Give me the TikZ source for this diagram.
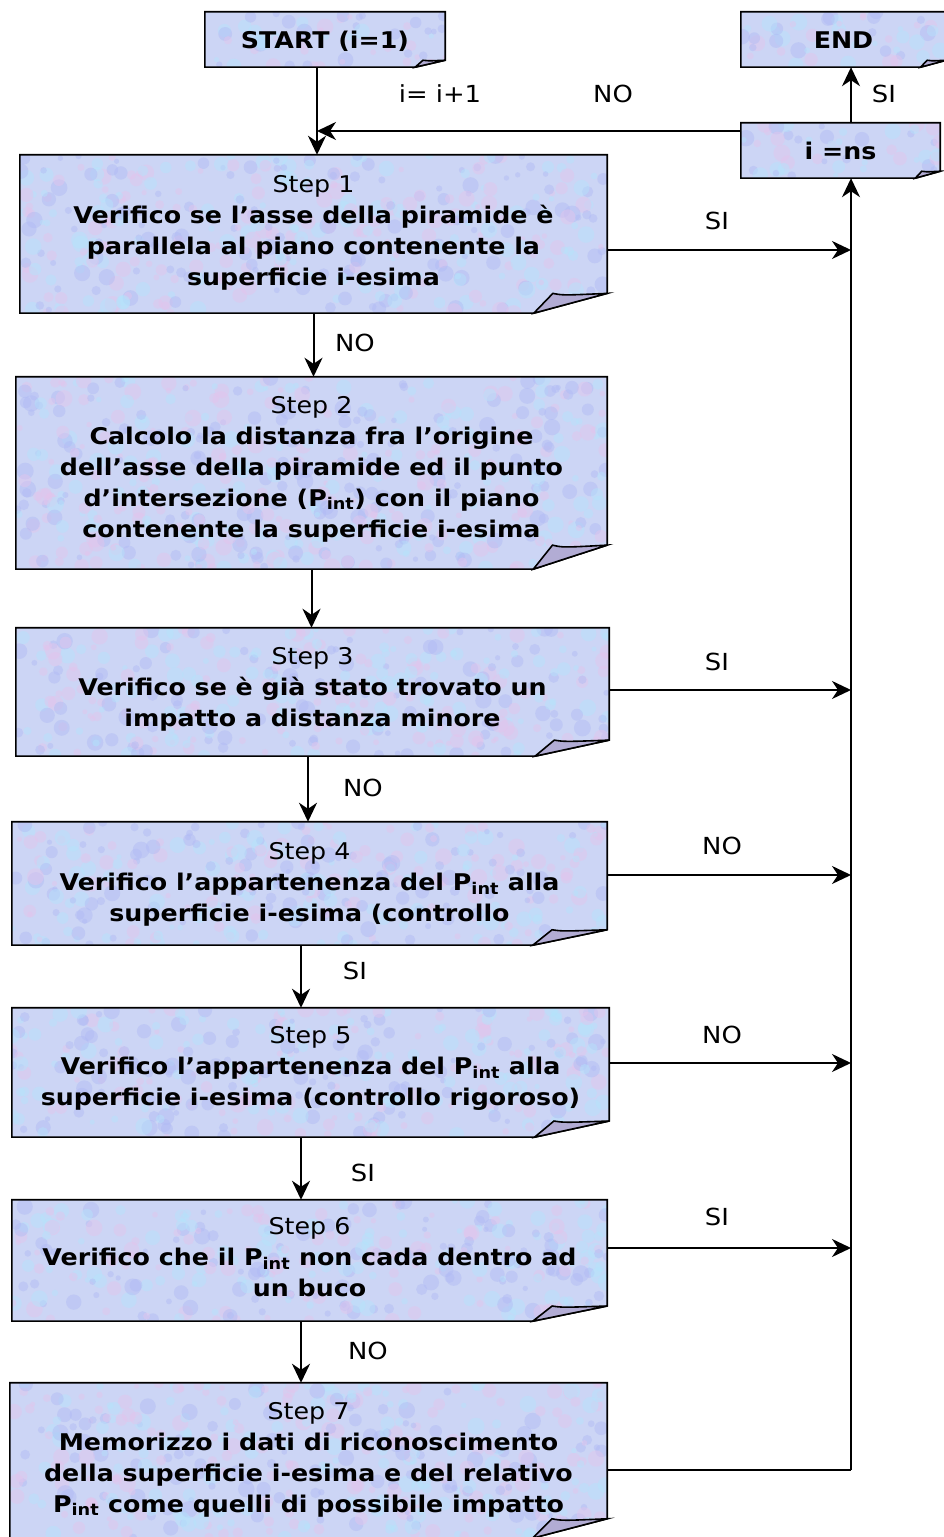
\documentclass[tikz,border=0pt]{standalone}
\usepackage{fontspec}
\setmainfont[FakeStretch=1.1]{DejaVu Sans}
\usetikzlibrary{arrows.meta,backgrounds}

\definecolor{notefill}{RGB}{204,213,245}
\definecolor{blot0}{RGB}{180,228,252}
\definecolor{blot1}{RGB}{228,196,236}
\definecolor{blot2}{RGB}{176,186,244}
\definecolor{foldfill}{RGB}{178,172,212}

\tikzset{
  notebox/.style={rectangle, inner sep=0pt, draw=none},
  notetext/.style={align=center, inner sep=0pt, font=\fontsize{23}{31}\selectfont},
  lbl/.style={inner sep=0pt, font=\fontsize{23.5}{26}\selectfont},
  arr/.style={line width=2pt, -{Stealth[length=19pt,width=18pt,inset=6pt]}},
  link/.style={line width=2pt},
  noteline/.style={line width=1.6pt, line join=miter}
}

% mottled paper background with a folded bottom-right corner
\newcommand\notebg[1]{%
  \path (#1.south west); \pgfgetlastxy{\nxa}{\nya}
  \path (#1.north east); \pgfgetlastxy{\nxb}{\nyb}
  \pgfmathsetmacro\fx{0.125*(\nxb-\nxa)}
  \pgfmathsetmacro\fy{0.125*(\nyb-\nya)}
  \pgfmathsetmacro\nblots{int(((\nxb-\nxa)/15)*((\nyb-\nya)/15))}
  \begin{scope}
    \clip (\nxa,\nya) -- (\nxa,\nyb) -- (\nxb,\nyb) -- (\nxb,\nya+\fy) -- (\nxb-\fx,\nya) -- cycle;
    \fill[notefill] (\nxa,\nya) rectangle (\nxb,\nyb);
    \foreach \k in {1,...,\nblots}{
      \pgfmathsetmacro\rx{\nxa+rnd*(\nxb-\nxa)}
      \pgfmathsetmacro\ry{\nya+rnd*(\nyb-\nya)}
      \pgfmathsetmacro\rr{2.5+rnd*6}
      \pgfmathtruncatemacro\rc{int(rnd*2.999)}
      \fill[blot\rc, opacity=.45] (\rx pt,\ry pt) circle (\rr pt);
    }
  \end{scope}
  \draw[noteline] (\nxa,\nya) -- (\nxa,\nyb) -- (\nxb,\nyb) -- (\nxb,\nya+\fy) -- (\nxb-\fx,\nya) -- cycle;
  \filldraw[noteline, fill=foldfill] (\nxb-\fx,\nya) -- (\nxb-0.74*\fx,\nya+\fy)
     .. controls (\nxb-0.6*\fx,\nya+0.9*\fy) .. (\nxb,\nya+\fy) -- cycle;
}

\begin{document}
\begin{tikzpicture}[x=1pt,y=1pt]
\pgfmathsetseed{4242}
\useasboundingbox (0,0) rectangle (944,1537);

% boxes
\node[notebox, minimum width=240, minimum height=55] (start) at (325,1497.5) {};
\node[notebox, minimum width=205, minimum height=55] (end) at (843.5,1497.5) {};
\node[notebox, minimum width=199, minimum height=55] (ins) at (840.5,1386.5) {};
\node[notebox, minimum width=587, minimum height=158] (s1) at (313.5,1303) {};
\node[notebox, minimum width=591, minimum height=192] (s2) at (311.5,1064) {};
\node[notebox, minimum width=593, minimum height=128] (s3) at (312.5,845) {};
\node[notebox, minimum width=595, minimum height=123] (s4) at (309.5,653.5) {};
\node[notebox, minimum width=597, minimum height=129] (s5) at (310.5,464.5) {};
\node[notebox, minimum width=595, minimum height=121] (s6) at (309.5,276.5) {};
\node[notebox, minimum width=597, minimum height=155] (s7) at (308.5,76.5) {};

\begin{scope}[on background layer]
  \foreach \b in {start,end,ins,s1,s2,s3,s4,s5,s6,s7}{\notebg{\b}}
\end{scope}

% texts
\node[notetext] (startt) at ([yshift=-2pt]start.center) {\bfseries START (i=1)};
\node[notetext] (endt) at ([yshift=-1pt]end.center) {\bfseries END};
\node[notetext] (inst) at (ins.center) {\bfseries i =ns};
\node[notetext] (s1t) at ([yshift=1pt]s1.center) {Step 1\\\bfseries Verifico se l’asse della piramide è\\\bfseries parallela al piano contenente la\\\bfseries superficie i-esima};
\node[notetext] (s2t) at ([yshift=4pt]s2.center) {Step 2\\\bfseries Calcolo la distanza fra l’origine\\\bfseries dell’asse della piramide ed il punto\\\bfseries d’intersezione (P\textsubscript{int}) con il piano\\\bfseries contenente la superficie i-esima};
\node[notetext] (s3t) at ([yshift=3pt]s3.center) {Step 3\\\bfseries Verifico se è già stato trovato un\\\bfseries impatto a distanza minore};
\node[notetext] (s4t) at ([yshift=-1pt]s4.center) {Step 4\\\bfseries Verifico l’appartenenza del P\textsubscript{int} alla\\\bfseries superficie i-esima (controllo};
\node[notetext] (s5t) at ([yshift=4pt]s5.center) {Step 5\\\bfseries Verifico l’appartenenza del P\textsubscript{int} alla\\\bfseries superficie i-esima (controllo rigoroso)};
\node[notetext] (s6t) at ([yshift=3pt]s6.center) {Step 6\\\bfseries Verifico che il P\textsubscript{int} non cada dentro ad\\\bfseries un buco};
\node[notetext] (s7t) at ([yshift=1pt]s7.center) {Step 7\\\bfseries Memorizzo i dati di riconoscimento\\\bfseries della superficie i-esima e del relativo\\\bfseries P\textsubscript{int} come quelli di possibile impatto};

% junction points
\coordinate (top) at (317,1406);
\coordinate (rail) at (851,0);
\coordinate (j1) at (851,1287);
\coordinate (j3) at (851,847);
\coordinate (j4) at (851,662);
\coordinate (j5) at (851,474);
\coordinate (j6) at (851,289);
\coordinate (j7) at (851,67);
\coordinate (d34) at (308,0);
\coordinate (d45) at (301,0);

% loop back and exit
\draw[arr] (start.south -| top) -- (s1.north -| top);
\draw[arr] (ins.west |- top) -- (top);
\draw[arr] (ins.north -| rail) -- (end.south -| rail);
\draw[link] (s7.east |- j7) -- (j7);
\draw[arr] (j7) -- (ins.south -| rail);

% side exits to the rail
\draw[arr] (s1.east |- j1) -- (j1);
\draw[arr] (s3.east |- j3) -- (j3);
\draw[arr] (s4.east |- j4) -- (j4);
\draw[arr] (s5.east |- j5) -- (j5);
\draw[arr] (s6.east |- j6) -- (j6);

% main sequence
\draw[arr] (s1.south) -- (s1.south |- s2.north);
\draw[arr] (s2.south) -- (s2.south |- s3.north);
\draw[arr] (s3.south -| d34) -- (s4.north -| d34);
\draw[arr] (s4.south -| d45) -- (s5.north -| d45);
\draw[arr] (s5.south -| d45) -- (s6.north -| d45);
\draw[arr] (s6.south -| d45) -- (s7.north -| d45);

% labels
\node[lbl] (linc) at (440,1443) {i= i+1};
\node[lbl] (lno0) at (613,1443) {NO};
\node[lbl] (lsi0) at (884,1443) {SI};
\node[lbl] (lsi1) at (717,1316) {SI};
\node[lbl] (lno1) at (355,1194) {NO};
\node[lbl] (lsi3) at (717,875) {SI};
\node[lbl] (lno3) at (363,749) {NO};
\node[lbl] (lno4) at (722,691) {NO};
\node[lbl] (lsi4) at (355,566) {SI};
\node[lbl] (lno5) at (722,502) {NO};
\node[lbl] (lsi5) at (363,364) {SI};
\node[lbl] (lsi6) at (717,320) {SI};
\node[lbl] (lno6) at (368,186) {NO};
\end{tikzpicture}
\end{document}
